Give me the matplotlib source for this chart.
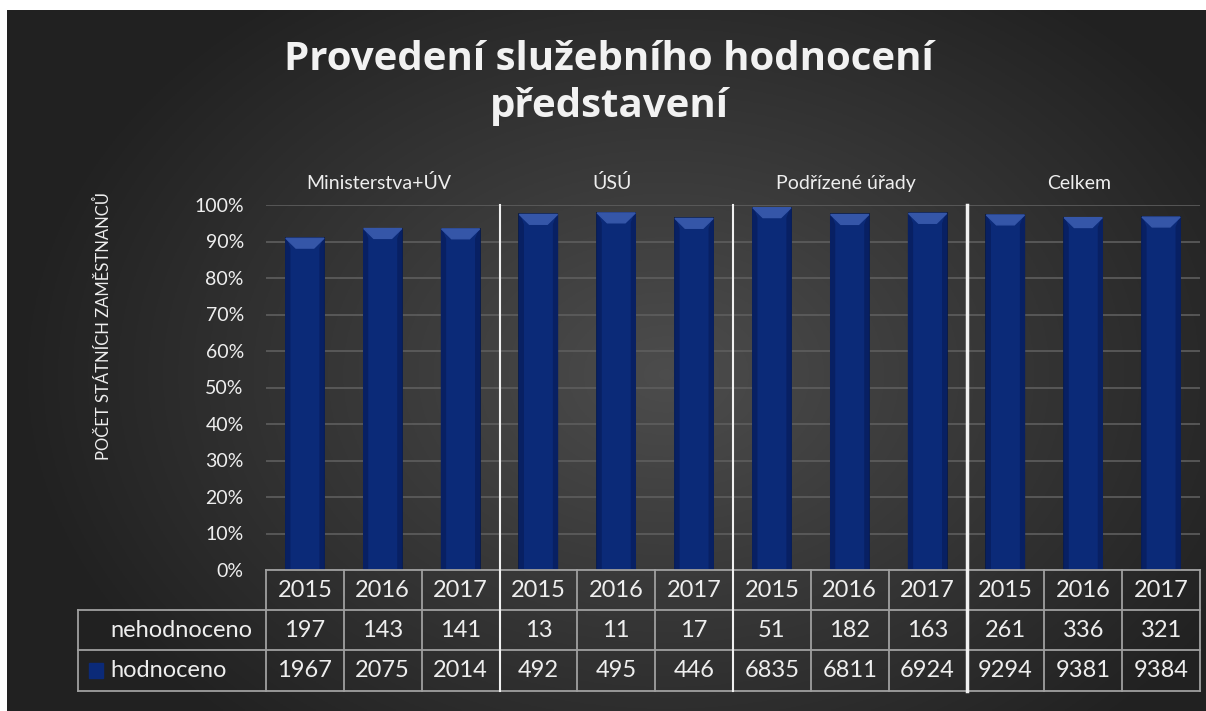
import numpy as np
import matplotlib
matplotlib.use('Agg')
import matplotlib.pyplot as plt
import matplotlib.transforms as mtransforms
from matplotlib.patches import Rectangle, Polygon

plt.rcParams['font.family'] = ['Lato', 'DejaVu Sans']

# data
groups = ['Ministerstva+ÚV', 'ÚSÚ', 'Podřízené úřady', 'Celkem']
years = ['2015', '2016', '2017'] * 4
nehodnoceno = [197, 143, 141, 13, 11, 17, 51, 182, 163, 261, 336, 321]
hodnoceno = [1967, 2075, 2014, 492, 495, 446, 6835, 6811, 6924, 9294, 9381, 9384]

share = [h / (h + n) for h, n in zip(hodnoceno, nehodnoceno)]
x = np.arange(len(years))

txt = '#eeeeee'
bar_col = '#0b2a78'
grid_col = '#5e5e5e'
tab_col = '#a0a0a0'

fig = plt.figure(figsize=(12.06, 7.11), dpi=100, facecolor='white')

# background with radial gradient
bg = fig.add_axes([7 / 1206, 0, 1 - 7 / 1206, 1 - 10 / 711])
bg.set_axis_off()
yy, xx = np.mgrid[0:1:300j, 0:1:500j]
r = np.sqrt(((xx - 0.55) * 1.25) ** 2 + ((yy - 0.52) * 1.0) ** 2)
shade = np.clip(0.30 - 0.25 * r, 0.13, 0.30)
bg.imshow(np.dstack([shade] * 3), aspect='auto', extent=[0, 1, 0, 1])

ax = fig.add_axes([266 / 1206, 1 - 570 / 711, 934 / 1206, 365 / 711])
ax.set_facecolor('none')
ax.set_xlim(-0.5, len(years) - 0.5)
ax.set_ylim(0, 1)
ax.set_yticks(np.arange(0, 1.01, 0.1))
ax.set_yticklabels([f'{int(round(v * 100))}%' for v in np.arange(0, 1.01, 0.1)],
                   color=txt, fontsize=14)
ax.tick_params(axis='y', length=0, pad=16)
ax.set_xticks([])
for s in ax.spines.values():
    s.set_visible(False)
ax.grid(axis='y', color=grid_col, lw=1.2)
ax.set_axisbelow(True)

bw = 0.49
ax.bar(x, share, width=bw, color=bar_col, edgecolor='#05163f', lw=1.2, zorder=3)
# bevel on top of bars, slightly darker sides
for xi, v in zip(x, share):
    dx, dy = 0.13, 0.027
    sx = 0.05
    ax.add_patch(Polygon([[xi - bw / 2, v], [xi - bw / 2 + sx, v - dy],
                          [xi - bw / 2 + sx, 0], [xi - bw / 2, 0]],
                         closed=True, color='#082063', zorder=4))
    ax.add_patch(Polygon([[xi + bw / 2, v], [xi + bw / 2 - sx, v - dy],
                          [xi + bw / 2 - sx, 0], [xi + bw / 2, 0]],
                         closed=True, color='#082063', zorder=4))
    ax.add_patch(Polygon([[xi - bw / 2, v], [xi + bw / 2, v],
                          [xi + bw / 2 - dx, v - dy], [xi - bw / 2 + dx, v - dy]],
                         closed=True, color='#3556a8', zorder=4))

trans = mtransforms.blended_transform_factory(ax.transData, ax.transAxes)

# group labels and separators
for g, name in enumerate(groups):
    ax.text(3 * g + 1 - 0.05, 1.06, name, transform=trans, ha='center', va='center',
            color=txt, fontsize=14)
for k, lw in zip([2.5, 5.5, 8.5], [1.5, 1.5, 2.5]):
    ax.plot([k, k], [1.0, -0.3315], transform=trans, color='#f0f0f0', lw=lw,
            clip_on=False, zorder=6)

# data table
r0, r1, r2, r3 = 0.0, -0.1096, -0.2192, -0.3315
xl = -0.5 - (266 - 78) / 77.8
right = len(years) - 0.5
ax.plot([-0.5, right], [r0, r0], transform=trans, color=tab_col, lw=1.3, clip_on=False, zorder=5)
for ry in [r1, r2, r3]:
    ax.plot([xl, right], [ry, ry], transform=trans, color=tab_col, lw=1.3, clip_on=False, zorder=5)
ax.plot([xl, xl], [r1, r3], transform=trans, color=tab_col, lw=1.3, clip_on=False, zorder=5)
for k in range(len(years) + 1):
    ax.plot([k - 0.5, k - 0.5], [r0, r3], transform=trans, color=tab_col, lw=1.3,
            clip_on=False, zorder=5)

fs_tab = 17
for xi in x:
    ax.text(xi, (r0 + r1) / 2, years[xi], transform=trans, ha='center', va='center',
            color=txt, fontsize=fs_tab)
    ax.text(xi, (r1 + r2) / 2, str(nehodnoceno[xi]), transform=trans, ha='center',
            va='center', color=txt, fontsize=fs_tab)
    ax.text(xi, (r2 + r3) / 2, str(hodnoceno[xi]), transform=trans, ha='center',
            va='center', color=txt, fontsize=fs_tab)

lx = -0.5 - (266 - 110) / 77.8
ax.text(lx, (r1 + r2) / 2, 'nehodnoceno', transform=trans, ha='left', va='center',
        color=txt, fontsize=fs_tab)
ax.text(lx, (r2 + r3) / 2, 'hodnoceno', transform=trans, ha='left', va='center',
        color=txt, fontsize=fs_tab)
ax.add_patch(Rectangle((-0.5 - (266 - 89) / 77.8, -0.2959), 14 / 77.8, 0.041,
                       transform=trans, color=bar_col, clip_on=False, zorder=6))

# axis title
fig.text(103 / 1206, 1 - 326 / 711, 'POČET STÁTNÍCH ZAMĚSTNANCŮ', rotation=90,
         ha='center', va='center', color=txt, fontsize=12)

# chart title
fig.text(609 / 1206, 1 - 83 / 711, 'Provedení služebního hodnocení\npředstavení',
         ha='center', va='center', color='#f2f2f2', fontsize=29, fontweight='bold',
         family=['Open Sans', 'DejaVu Sans'], linespacing=1.3)

fig.savefig('out.png', dpi=100, facecolor=fig.get_facecolor())
